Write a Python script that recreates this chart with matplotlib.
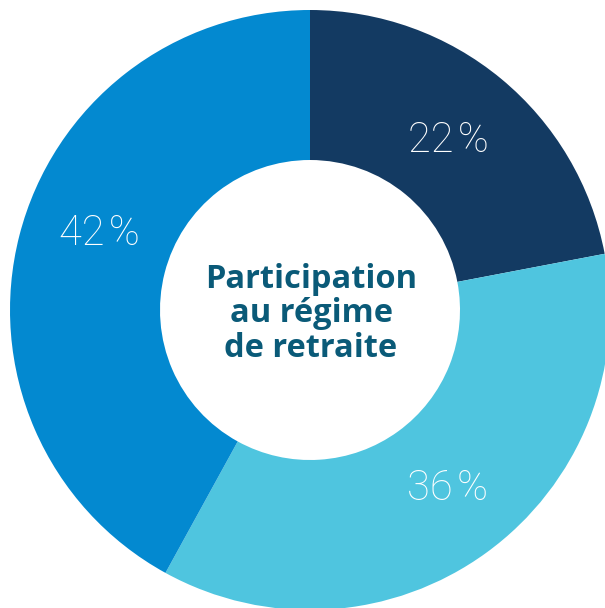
import matplotlib
matplotlib.use("Agg")
import matplotlib.pyplot as plt

categories = ["Catégorie A", "Catégorie B", "Catégorie C"]
values = [22, 36, 42]
labels = ["22\u200a%", "36\u200a%", "42\u200a%"]
colors = ["#133A62", "#4FC5DF", "#0389D0"]
center_text = "Participation\nau régime\nde retraite"

W, H = 605, 608
fig = plt.figure(figsize=(W / 100, H / 100), dpi=100)
ax = fig.add_axes([0, 0, 1, 1])
ax.set_xlim(0, W)
ax.set_ylim(0, H)
ax.set_aspect("equal")
ax.axis("off")

cx, cy, R = 310, H - 310, 300
wedges, texts = ax.pie(values, radius=R, center=(cx, cy), colors=colors,
                       startangle=90, counterclock=False,
                       labels=labels, labeldistance=0.75,
                       wedgeprops=dict(width=150, linewidth=0),
                       textprops=dict(color="white", fontsize=30,
                                      family=["Roboto", "DejaVu Sans"],
                                      fontweight="light",
                                      ha="center", va="center"))
# small label nudges (pixels) to match reference placement
nudges = [(-5, -4), (5, 4), (7, 21)]
for t, (dx, dy) in zip(texts, nudges):
    x, y = t.get_position()
    t.set_position((x + dx, y + dy))
    t.set_horizontalalignment("center")
ax.set_xlim(0, W)
ax.set_ylim(0, H)

ax.text(cx + 1, cy - 4, center_text, ha="center", va="center", color="#0A5A78",
        fontsize=23.5, fontweight="bold", family=["Open Sans", "DejaVu Sans"],
        linespacing=1.05)

fig.savefig("out.png", dpi=100)
